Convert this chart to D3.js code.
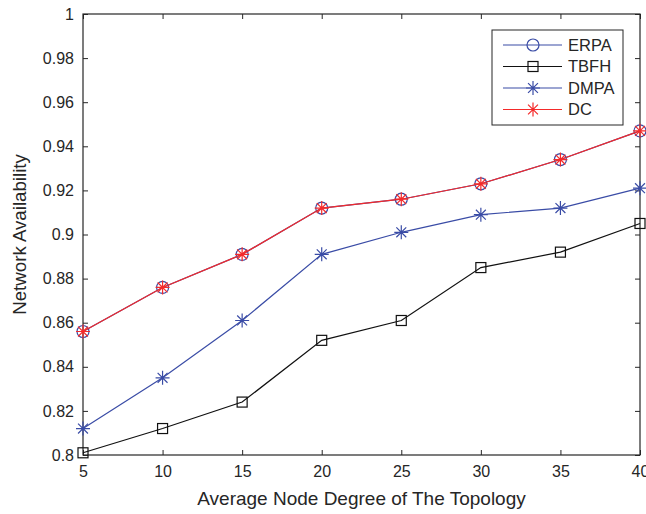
<!DOCTYPE html>
<html>
<head>
<meta charset="utf-8">
<script src="https://cdn.jsdelivr.net/npm/d3@7"></script>
<style>
  body { margin: 0; background: #fff; }
  text { font-family: Arial, "Liberation Sans", sans-serif; fill: #262626; }
</style>
</head>
<body>
<svg width="646" height="514"></svg>
<script>
// data
var degrees = [5, 10, 15, 20, 25, 30, 35, 40];
var erpa = [0.856, 0.876, 0.891, 0.912, 0.916, 0.923, 0.934, 0.947];
var tbfh = [0.801, 0.812, 0.824, 0.852, 0.861, 0.885, 0.892, 0.905];
var dmpa = [0.812, 0.835, 0.861, 0.891, 0.901, 0.909, 0.912, 0.921];
var dc   = [0.856, 0.876, 0.891, 0.912, 0.916, 0.923, 0.934, 0.947];
var yTicks = [0.8, 0.82, 0.84, 0.86, 0.88, 0.9, 0.92, 0.94, 0.96, 0.98, 1];

var blue = '#3a4ca6', red = '#f42a2a', black = '#111';

var series = [
  { name: 'ERPA', values: erpa, color: blue, marker: 'circle' },
  { name: 'TBFH', values: tbfh, color: black, marker: 'square' },
  { name: 'DMPA', values: dmpa, color: blue, marker: 'star' },
  { name: 'DC',   values: dc,   color: red,  marker: 'star' }
];

var svg = d3.select('svg'),
    margin = { top: 14, right: 6, bottom: 59, left: 83 },
    width  = +svg.attr('width') - margin.left - margin.right,
    height = +svg.attr('height') - margin.top - margin.bottom,
    x = d3.scaleLinear().domain([5, 40]).range([0, width]),
    y = d3.scaleLinear().domain([0.8, 1]).range([height, 0]),
    g = svg.append('g')
      .attr('transform', 'translate(' + margin.left + ',' + margin.top + ')');

//ticks point inward on every side, like a matlab box
function styleAxis(sel) {
  sel.select('.domain').remove();
  sel.selectAll('.tick line').attr('stroke', '#262626');
  sel.selectAll('.tick text').style('font-size', '16px').attr('fill', '#262626');
}

g.append('g')
  .attr('transform', 'translate(0,' + height + ')')
  .call(d3.axisBottom(x).tickValues(degrees).tickSizeInner(-5).tickPadding(11))
  .call(styleAxis);
g.append('g')
  .call(d3.axisTop(x).tickValues(degrees).tickSizeInner(-5).tickFormat(''))
  .call(styleAxis);
g.append('g')
  .call(d3.axisLeft(y).tickValues(yTicks).tickSizeInner(-5).tickPadding(9)
    .tickFormat(function(d) { return d3.format('')(+d.toFixed(2)); }))
  .call(styleAxis);
g.append('g')
  .attr('transform', 'translate(' + width + ',0)')
  .call(d3.axisRight(y).tickValues(yTicks).tickSizeInner(-5).tickFormat(''))
  .call(styleAxis);

g.append('rect')
  .attr('width', width).attr('height', height)
  .attr('fill', 'none').attr('stroke', '#262626').attr('stroke-width', 1.2);

var line = d3.line()
  .x(function(d, i) { return x(degrees[i]); })
  .y(function(d) { return y(d); });

function drawMarker(sel, type, color, s) {
  if (type === 'circle') {
    sel.append('circle').attr('r', s + 1).attr('fill', 'none').attr('stroke', color).attr('stroke-width', 1.2);
  } else if (type === 'square') {
    sel.append('rect').attr('x', -s).attr('y', -s).attr('width', 2 * s).attr('height', 2 * s)
      .attr('fill', 'none').attr('stroke', color).attr('stroke-width', 1.2);
  } else {
    var r = s + 2, d = r * 0.7071;
    var p = 'M' + (-r) + ',0L' + r + ',0M0,' + (-r) + 'L0,' + r +
            'M' + (-d) + ',' + (-d) + 'L' + d + ',' + d + 'M' + (-d) + ',' + d + 'L' + d + ',' + (-d);
    sel.append('path').attr('d', p).attr('stroke', color).attr('stroke-width', 1.2).attr('fill', 'none');
  }
}

var plot = g.append('g');
series.forEach(function(s) {
  plot.append('path')
    .datum(s.values)
    .attr('fill', 'none')
    .attr('stroke', s.color)
    .attr('stroke-width', 1.2)
    .attr('d', line);
  s.values.forEach(function(v, i) {
    var m = plot.append('g').attr('transform', 'translate(' + x(degrees[i]) + ',' + y(v) + ')');
    drawMarker(m, s.marker, s.color, 5);
  });
});

// legend
var lg = svg.append('g').attr('transform', 'translate(492,30)');
lg.append('rect').attr('width', 131).attr('height', 95)
  .attr('fill', '#fff').attr('stroke', '#262626').attr('stroke-width', 1);
series.forEach(function(s, i) {
  var row = lg.append('g').attr('transform', 'translate(0,' + (15 + i * 21.5) + ')');
  row.append('line').attr('x1', 11).attr('x2', 70).attr('stroke', s.color).attr('stroke-width', 1.2);
  drawMarker(row.append('g').attr('transform', 'translate(41,0)'), s.marker, s.color, 5);
  row.append('text').attr('x', 76).attr('dy', '0.36em').style('font-size', '16.5px').text(s.name);
});

svg.append('text')
  .attr('x', margin.left + width / 2).attr('y', 505)
  .attr('text-anchor', 'middle').style('font-size', '19px')
  .text('Average Node Degree of The Topology');
svg.append('text')
  .attr('transform', 'translate(26,' + (margin.top + height / 2) + ') rotate(-90)')
  .attr('text-anchor', 'middle').style('font-size', '18.7px')
  .text('Network Availability');
</script>
</body>
</html>
